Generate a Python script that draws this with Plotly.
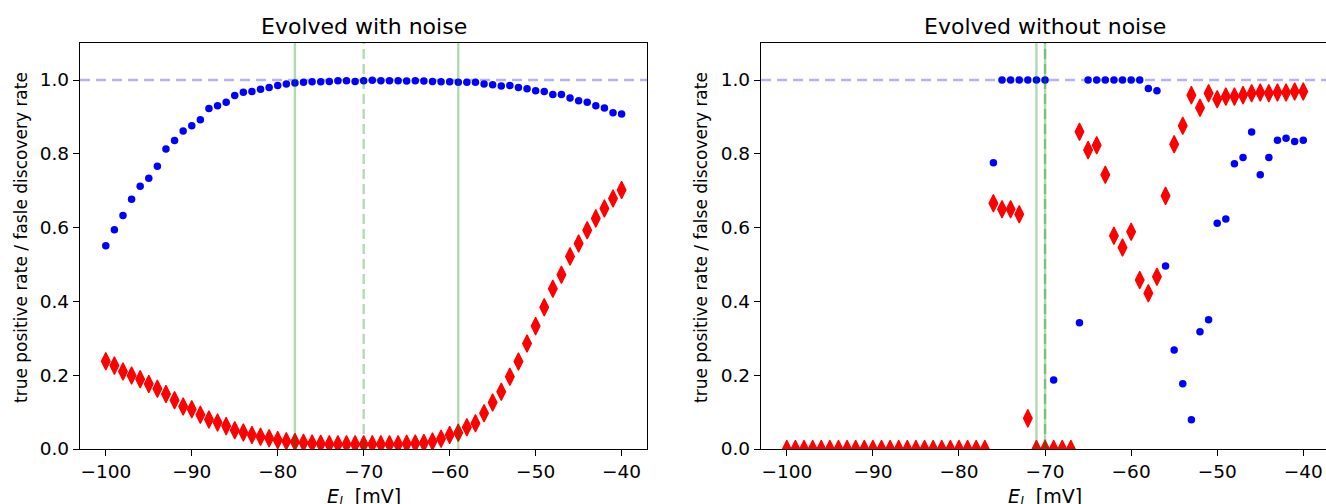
import numpy as np
import plotly.graph_objects as go

# ---------------- data ----------------
E_l = list(range(-100, -39))  # -100 ... -40 mV

# Evolved with noise
tpr_noise = [0.551, 0.594, 0.633, 0.677, 0.712, 0.734, 0.766, 0.813, 0.836, 0.862,
             0.876, 0.892, 0.923, 0.930, 0.940, 0.958, 0.967, 0.969, 0.975, 0.980,
             0.985, 0.989, 0.992, 0.994, 0.995, 0.995, 0.996, 0.998, 0.998, 0.996,
             0.998, 0.999, 0.998, 0.998, 0.998, 0.997, 0.998, 0.997, 0.996, 0.995,
             0.995, 0.994, 0.994, 0.994, 0.989, 0.987, 0.984, 0.985, 0.980, 0.976,
             0.971, 0.969, 0.961, 0.961, 0.951, 0.944, 0.940, 0.930, 0.924, 0.911,
             0.908]
fdr_noise = [0.238, 0.226, 0.210, 0.199, 0.189, 0.176, 0.163, 0.149, 0.132, 0.115,
             0.108, 0.093, 0.080, 0.072, 0.062, 0.051, 0.045, 0.038, 0.033, 0.029,
             0.024, 0.021, 0.019, 0.017, 0.015, 0.014, 0.013, 0.013, 0.013, 0.013,
             0.013, 0.013, 0.013, 0.013, 0.013, 0.014, 0.015, 0.016, 0.020, 0.028,
             0.038, 0.044, 0.059, 0.070, 0.097, 0.126, 0.155, 0.196, 0.237, 0.286,
             0.333, 0.384, 0.434, 0.472, 0.522, 0.557, 0.593, 0.625, 0.652, 0.679,
             0.702]

# Evolved without noise (None = no value)
tpr_clean = [None] * 24 + [
    0.776, 1.0, 1.0, 1.0, 1.0, 1.0, 1.0, 0.187, None, None,
    0.342, 1.0, 1.0, 1.0, 1.0, 1.0, 1.0, 1.0, 0.977, 0.971,
    0.496, 0.268, 0.177, 0.079, 0.318, 0.350, 0.612, 0.623, 0.773, 0.790,
    0.859, 0.743, 0.790, 0.837, 0.842, 0.833, 0.837]
fdr_clean = [0.0] * 24 + [
    0.666, 0.650, 0.650, 0.636, 0.083, 0.0, 0.0, 0.0, 0.0, 0.0,
    0.860, 0.810, 0.823, 0.743, 0.578, 0.546, 0.589, 0.458, 0.422, 0.467,
    0.686, 0.826, 0.876, 0.959, 0.925, 0.964, 0.948, 0.955, 0.955, 0.959,
    0.964, 0.966, 0.964, 0.966, 0.966, 0.969, 0.969]

# reference lines
noise_bounds = [-78, -59]
noise_target = -70
clean_bounds = [-71, -70]
clean_target = -70
perfect_rate = 1.0

titles = ["Evolved with noise", "Evolved without noise"]
ylabels = ["true positive rate / fasle discovery rate",
           "true positive rate / false discovery rate"]
xlabel = "<i>E</i><sub><i>l</i></sub>  [mV]"
xticks = [-100, -90, -80, -70, -60, -50, -40]
yticks = [0.0, 0.2, 0.4, 0.6, 0.8, 1.0]

# ---------------- layout ----------------
W, H = 1326, 504
FONT = "DejaVu Sans"
y_dom = [1 - 449 / H, 1 - 43.1 / H]
x_dom1 = [80 / W, 647.4 / W]
x_dom2 = [761 / W, 1.0]

fig = go.Figure()

blue = "#0000ff"
red = "#ff0000"
green_a = "rgba(0,128,0,0.3)"
blue_a = "rgba(0,0,255,0.3)"

for i, (tpr, fdr) in enumerate([(tpr_noise, fdr_noise), (tpr_clean, fdr_clean)]):
    xa = "x" if i == 0 else "x2"
    ya = "y" if i == 0 else "y2"
    fig.add_trace(go.Scatter(x=E_l, y=tpr, mode="markers", xaxis=xa, yaxis=ya,
                             marker=dict(symbol="circle", size=7.5, color=blue,
                                         line=dict(width=0)),
                             showlegend=False, hoverinfo="skip"))
    fig.add_trace(go.Scatter(x=E_l, y=fdr, mode="markers", xaxis=xa, yaxis=ya,
                             marker=dict(symbol="diamond-tall", size=12.5, color=red,
                                         line=dict(width=1.2, color=red)),
                             showlegend=False, hoverinfo="skip"))

shapes = []
for i, (bounds, target) in enumerate([(noise_bounds, noise_target),
                                      (clean_bounds, clean_target)]):
    xr = "x" if i == 0 else "x2"
    yr = "y" if i == 0 else "y2"
    shapes.append(dict(type="line", xref=xr + " domain", yref=yr, x0=0, x1=1,
                       y0=perfect_rate, y1=perfect_rate,
                       line=dict(color=blue_a, width=2.4, dash="10px,6px"), layer="above"))
    for b in bounds:
        shapes.append(dict(type="line", xref=xr, yref=yr + " domain", x0=b, x1=b,
                           y0=0, y1=1, line=dict(color=green_a, width=2.4),
                           layer="above"))
    shapes.append(dict(type="line", xref=xr, yref=yr + " domain", x0=target, x1=target,
                       y0=0, y1=1, line=dict(color=green_a, width=2.4, dash="10px,5px"),
                       layer="above"))

annotations = []
centers = [(80 + 647.4) / 2 / W, (761 + 1329.1) / 2 / W]
for i in range(2):
    cx = centers[i]
    annotations.append(dict(text=titles[i], x=cx, y=1 - 26 / H, xref="paper", yref="paper",
                            showarrow=False, font=dict(family=FONT, size=22, color="black"),
                            xanchor="center", yanchor="middle"))
    annotations.append(dict(text=xlabel, x=cx, y=1 - 497 / H, xref="paper", yref="paper",
                            showarrow=False, font=dict(family=FONT, size=19, color="black"),
                            xanchor="center", yanchor="middle"))
    lx = 21 if i == 0 else 701
    annotations.append(dict(text=ylabels[i], x=lx / W, y=1 - 238 / H,
                            xref="paper", yref="paper", textangle=-90,
                            showarrow=False, font=dict(family=FONT, size=17, color="black"),
                            xanchor="center", yanchor="middle"))

axis_common = dict(showgrid=False, zeroline=False, showline=True, linecolor="black",
                   linewidth=1.3, ticks="outside", ticklen=6, tickwidth=1.3,
                   automargin=False,
                   tickcolor="black", tickfont=dict(family=FONT, size=18.5, color="black"))

fig.update_layout(
    width=W, height=H,
    margin=dict(l=0, r=0, t=0, b=0, autoexpand=False),
    paper_bgcolor="white", plot_bgcolor="white",
    showlegend=False,
    shapes=shapes,
    annotations=annotations,
    xaxis=dict(domain=x_dom1, range=[-103, -37], tickvals=xticks, mirror=True,
               anchor="y", **axis_common),
    yaxis=dict(domain=y_dom, range=[0, 1.1], tickvals=yticks, tickformat=".1f",
               mirror=True, anchor="x", **axis_common),
    xaxis2=dict(domain=x_dom2, range=[-103, -37 - 3.1 / 8.605], tickvals=xticks,
                mirror=True, anchor="y2", **axis_common),
    yaxis2=dict(domain=y_dom, range=[0, 1.1], tickvals=yticks, tickformat=".1f",
                mirror=False, anchor="x2", **axis_common),
)

fig.write_html("out.html", config={"displayModeBar": False},
               post_script="document.body.style.margin='0px';"
                           "document.body.style.overflow='hidden';")
